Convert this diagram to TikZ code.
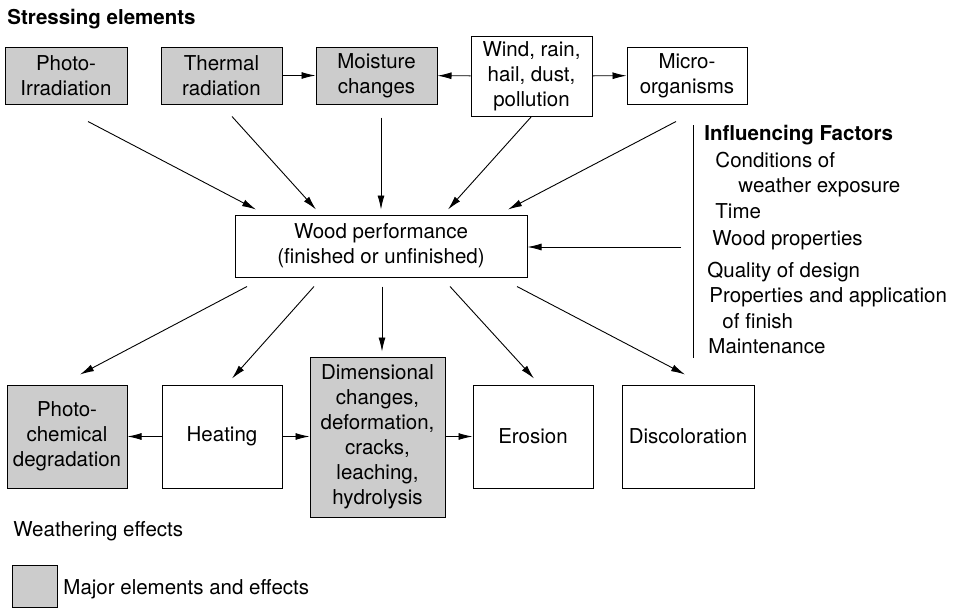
\documentclass[tikz,border=0pt]{standalone}
\usepackage{fontspec}
\setmainfont{TeX Gyre Heros}
\usetikzlibrary{arrows.meta}
\definecolor{majorgray}{gray}{0.8}

\begin{document}
\begin{tikzpicture}[
  x=1pt, y=-1pt, line width=0.9pt,
  font=\fontsize{20.5}{25}\selectfont,
  plainbox/.style={draw,line width=1pt,align=center,inner sep=0pt},
  majorbox/.style={plainbox,fill=majorgray},
  arr/.style={-{Latex[length=14pt,width=7pt]}},
  factor/.style={anchor=base west,inner sep=0pt},
  heading/.style={factor,font=\fontsize{20.5}{25}\selectfont\bfseries}
]
  \useasboundingbox (0,0) rectangle (964,608);
  \node[heading] (title) at (7,24) {Stressing elements};
  % stressing elements
  \node[majorbox,minimum width=122pt,minimum height=57pt] (photo) at (66,75.5) {Photo-\\Irradiation};
  \node[majorbox,minimum width=121pt,minimum height=57pt] (thermal) at (221.5,75.5) {Thermal\\radiation};
  \node[majorbox,minimum width=121pt,minimum height=57pt] (moist) at (376.5,75.5) {Moisture\\changes};
  \node[plainbox,minimum width=121pt,minimum height=80pt] (wind) at (531.5,76) {Wind, rain,\\hail, dust,\\pollution};
  \node[plainbox,minimum width=120pt,minimum height=57pt] (micro) at (687,75.5) {Micro-\\organisms};
  \draw[arr] (thermal) -- (moist);
  \draw[arr] (wind) -- (moist);
  \draw[arr] (wind) -- (micro);
  % wood
  \node[plainbox,minimum width=292pt,minimum height=62pt] (wood) at (381,246) {Wood performance\\(finished or unfinished)};
  \draw[arr] ([xshift=22pt,yshift=-17pt]photo.south) -- ([xshift=-125pt,yshift=5pt]wood.north);
  \draw[arr] ([xshift=10.5pt,yshift=-12pt]thermal.south) -- ([xshift=-65pt,yshift=5pt]wood.north);
  \draw[arr] ([xshift=4.5pt,yshift=-13pt]moist.south) -- ([yshift=5pt]wood.north);
  \draw[arr] (wind.south) -- ([xshift=67pt,yshift=5pt]wood.north);
  \draw[arr] ([xshift=-11pt,yshift=-17pt]micro.south) -- ([xshift=127pt,yshift=5pt]wood.north);
  % influencing factors
  \coordinate (bartop) at (693,125);
  \coordinate (barbot) at (693,358);
  \coordinate (factin) at (681,247);
  \draw (bartop) -- (barbot);
  \draw[arr] (factin) -- (factin -| wood.east);
  \node[heading] (infl) at (704,140) {Influencing Factors};
  \node[factor] (f1) at (715,167) {Conditions of};
  \node[factor] (f2) at (738,192) {weather exposure};
  \node[factor] (f3) at (715,218) {Time};
  \node[factor] (f4) at (712,245) {Wood properties};
  \node[factor] (f5) at (707,277) {Quality of design};
  \node[factor] (f6) at (709,302) {Properties and application};
  \node[factor] (f7) at (722,328) {of finish};
  \node[factor] (f8) at (708,353) {Maintenance};
  % weathering effects
  \node[majorbox,minimum width=120pt,minimum height=103pt] (photochem) at (67,436.5) {Photo-\\chemical\\degradation};
  \node[plainbox,minimum width=120pt,minimum height=103pt] (heating) at (222,436.5) {Heating};
  \node[majorbox,minimum width=135pt,minimum height=160pt] (dim) at (377.5,437) {Dimensional\\changes,\\deformation,\\cracks,\\leaching,\\hydrolysis};
  \node[plainbox,minimum width=120pt,minimum height=103pt] (erosion) at (533,436.5) {Erosion};
  \node[plainbox,minimum width=132pt,minimum height=103pt] (discol) at (688,436.5) {Discoloration};
  \draw[arr] ([xshift=-134pt,yshift=-9pt]wood.south) -- ([xshift=13pt,yshift=10pt]photochem.north);
  \draw[arr] ([xshift=-67pt,yshift=-9pt]wood.south) -- ([xshift=10pt,yshift=6pt]heating.north);
  \draw[arr] ([xshift=1pt,yshift=-9pt]wood.south) -- ([xshift=4.5pt,yshift=5pt]dim.north);
  \draw[arr] ([xshift=69pt,yshift=-9pt]wood.south) -- ([xshift=1pt,yshift=6pt]erosion.north);
  \draw[arr] ([xshift=136pt,yshift=-9pt]wood.south) -- ([xshift=-3pt,yshift=10pt]discol.north);
  \draw[arr] (heating) -- (photochem);
  \draw[arr] (heating) -- (dim.west |- heating);
  \draw[arr] (dim.east |- erosion) -- (erosion);
  \node[factor] (weff) at (13,536) {Weathering effects};
  % legend
  \node[majorbox,minimum width=45pt,minimum height=42pt] (legend) at (34.5,586) {};
  \node[factor] (legtext) at (63,594) {Major elements and effects};
\end{tikzpicture}
\end{document}
